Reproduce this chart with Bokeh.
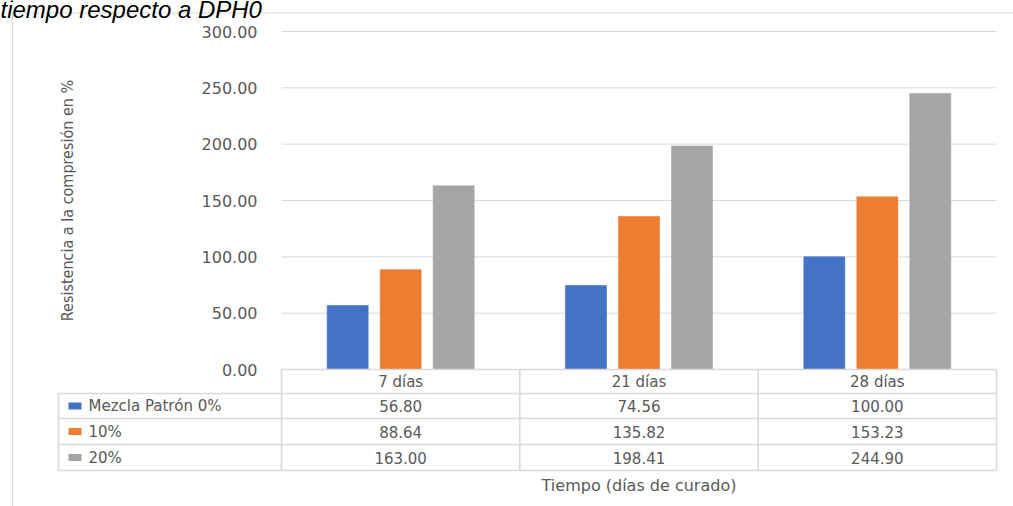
import math

from bokeh.core.properties import value
from bokeh.embed import file_html
from bokeh.models import ColumnDataSource, Range1d
from bokeh.plotting import figure
from bokeh.resources import INLINE

# ---- data -----------------------------------------------------------------
categories = ["7 días", "21 días", "28 días"]
series_names = ["Mezcla Patrón 0%", "10%", "20%"]
patron_0 = [56.80, 74.56, 100.00]
adicion_10 = [88.64, 135.82, 153.23]
adicion_20 = [163.00, 198.41, 244.90]
y_ticks = [0, 50, 100, 150, 200, 250, 300]

series_values = [patron_0, adicion_10, adicion_20]
colors = ["#4472C4", "#ED7D31", "#A5A5A5"]

caption = "tiempo respecto a DPH0"
y_title = "Resistencia a la compresión en %"
x_title = "Tiempo (días de curado)"

# ---- layout (screen pixels) ----------------------------------------------
W, H = 1013, 506
PL, PR, PT, PB = 281, 996, 31, 369          # plot area edges
ROWS = [369, 393, 418, 444, 470]            # data-table row edges
TABLE_LEFT = 58
GRID = "#D9D9D9"
TXT = "#595959"
BODY_FONT = value("DejaVu Sans")

n = len(categories)
ux = (PR - PL) / n                    # pixels per category
uy = (PB - PT) / y_ticks[-1]          # pixels per unit of resistance

p = figure(
    width=W, height=H,
    x_range=Range1d(-0.5 - PL / ux, n - 0.5 + (W - PR) / ux),
    y_range=Range1d(-(H - PB) / uy, y_ticks[-1] + PT / uy),
    x_axis_location=None, y_axis_location=None,
    toolbar_location=None, output_backend="svg",
    min_border=0, outline_line_color=None,
)
p.grid.visible = False
p.background_fill_color = "white"
p.border_fill_color = "white"
p.extra_x_ranges = {"px": Range1d(0, W)}
p.extra_y_ranges = {"px": Range1d(H, 0)}

# chart-area frame (left and top edges are in view)
p.line(x=[12, 12, W], y=[H, 12.5, 12.5], line_color=GRID, line_width=1.2,
       x_range_name="px", y_range_name="px")

# caption line above the chart, running off the top edge
p.text(x=[0], y=[9], text=[caption], x_range_name="px", y_range_name="px",
       text_font=value("Liberation Sans"), text_font_style="italic",
       text_font_size="24px", text_color="black",
       text_align="left", text_baseline="alphabetic")

# horizontal gridlines across the category span
p.segment(x0=[-0.5] * len(y_ticks), x1=[n - 0.5] * len(y_ticks),
          y0=y_ticks, y1=y_ticks, line_color=GRID, line_width=1)

# y tick labels
p.text(x=[-0.5] * len(y_ticks), y=y_ticks, text=[f"{t:.2f}" for t in y_ticks],
       x_offset=-24, text_align="right", text_baseline="middle",
       text_font=BODY_FONT, text_font_size="16px", text_color=TXT)

# clustered bars
step = 53 / ux
bar_w = 41 / ux
for k, (vals, col) in enumerate(zip(series_values, colors)):
    src = ColumnDataSource(dict(x=[i + (k - 1) * step for i in range(n)], top=vals))
    p.vbar(x="x", top="top", bottom=0, width=bar_w, source=src,
           fill_color=col, line_color=col, line_width=0.6)

# ---- data table under the plot -------------------------------------------
tbl = dict(line_color=GRID, line_width=1.6, x_range_name="px", y_range_name="px")
p.segment(x0=[PL], x1=[PR], y0=[ROWS[0]], y1=[ROWS[0]], **tbl)
p.segment(x0=[TABLE_LEFT] * 4, x1=[PR] * 4, y0=ROWS[1:], y1=ROWS[1:], **tbl)
p.segment(x0=[PL, PR], x1=[PL, PR], y0=[ROWS[0]] * 2, y1=[ROWS[-1]] * 2, **tbl)
p.segment(x0=[TABLE_LEFT], x1=[TABLE_LEFT], y0=[ROWS[1]], y1=[ROWS[-1]], **tbl)
p.segment(x0=[i + 0.5 for i in range(n - 1)], x1=[i + 0.5 for i in range(n - 1)],
          y0=[ROWS[0]] * (n - 1), y1=[ROWS[-1]] * (n - 1),
          line_color=GRID, line_width=1.6, y_range_name="px")

row_mid = [(a + b) / 2 for a, b in zip(ROWS[:-1], ROWS[1:])]

# header row: category names
p.text(x=list(range(n)), y=[row_mid[0]] * n, text=categories, y_range_name="px",
       text_align="center", text_baseline="middle",
       text_font=BODY_FONT, text_font_size="15px", text_color=TXT)

# value cells
for k, vals in enumerate(series_values):
    p.text(x=list(range(n)), y=[row_mid[k + 1]] * n, text=[f"{v:.2f}" for v in vals],
           y_range_name="px", text_align="center", text_baseline="middle",
           text_font=BODY_FONT, text_font_size="15px", text_color=TXT)

# legend keys and series names in the first column
p.rect(x=[74.5] * 3, y=row_mid[1:], width=13, height=7, fill_color=colors,
       line_color=None, x_range_name="px", y_range_name="px")
p.text(x=[88] * 3, y=row_mid[1:], text=series_names,
       x_range_name="px", y_range_name="px",
       text_align="left", text_baseline="middle",
       text_font=BODY_FONT, text_font_size="15px", text_color=TXT)

# axis titles
p.text(x=[67], y=[(82 + 318) / 2], text=[y_title], angle=math.pi / 2,
       x_range_name="px", y_range_name="px",
       text_align="center", text_baseline="middle",
       text_font=value("DejaVu Sans Condensed"), text_font_size="16px",
       text_color=TXT)
p.text(x=[(n - 1) / 2], y=[485], text=[x_title], y_range_name="px",
       text_align="center", text_baseline="middle",
       text_font=BODY_FONT, text_font_size="16px", text_color=TXT)

open("out.html", "w").write(file_html(p, INLINE))
